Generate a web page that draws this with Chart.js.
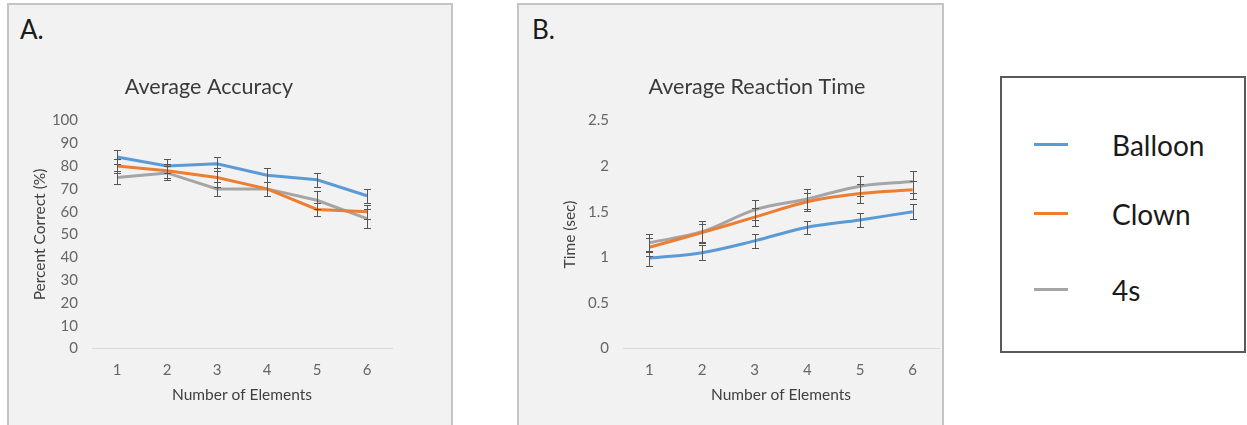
<!DOCTYPE html>
<html>
<head>
<meta charset="utf-8">
<script src="https://cdn.jsdelivr.net/npm/chart.js@4.4.0/dist/chart.umd.min.js"></script>
<style>
  body { margin: 0; width: 1247px; height: 425px; overflow: hidden; position: relative; background: #fff; font-family: Lato, sans-serif; }
  .panel { position: absolute; top: 3px; height: 440px; background: #f2f2f2; border: 2px solid #c4c4c4; box-sizing: border-box; }
  #panelA { left: 7px; width: 446px; }
  #panelB { left: 517px; width: 427px; }
  .tag { position: absolute; top: 13px; font-size: 26px; color: #1a1a1a; }
  canvas { position: absolute; top: 4px; }
  #accuracy { left: 9px; }
  #reaction { left: 530px; }
  .legend { position: absolute; left: 1000px; top: 76px; width: 246px; height: 277px; border: 2px solid #5a5a5a; box-sizing: border-box; background: #fff; }
  .item { position: absolute; left: 0; width: 100%; height: 30px; }
  .item i { position: absolute; left: 32px; top: 13px; width: 34px; height: 3px; }
  .item span { position: absolute; left: 110px; top: 0; font-size: 28px; line-height: 30px; color: #1a1a1a; }
</style>
</head>
<body>
<div class="panel" id="panelA"></div>
<div class="panel" id="panelB"></div>
<div class="tag" style="left:20px">A.</div>
<div class="tag" style="left:532px">B.</div>
<canvas id="accuracy" width="442" height="421"></canvas>
<canvas id="reaction" width="412" height="421"></canvas>

<div class="legend">
  <div class="item" style="top:52px"><i style="background:#5b9bd5"></i><span>Balloon</span></div>
  <div class="item" style="top:121px"><i style="background:#ed7d31"></i><span>Clown</span></div>
  <div class="item" style="top:197px"><i style="background:#a5a5a5"></i><span>4s</span></div>
</div>

<script>
const elements = ['1', '2', '3', '4', '5', '6'];

// accuracy, percent correct
const accBalloon = [84, 80, 81, 76, 74, 67];
const accClown   = [80, 78, 75, 70, 61, 60];
const acc4s      = [75, 77, 70, 70, 65, 57];
const accBalloonErr = [3, 3, 3, 3, 3, 3];
const accClownErr   = [3, 3, 4, 3, 3, 3];
const acc4sErr      = [3, 3, 3, 3, 4, 4];
const accTicks = [0, 10, 20, 30, 40, 50, 60, 70, 80, 90, 100];

// reaction time, seconds
const rtBalloon = [0.99, 1.05, 1.18, 1.33, 1.41, 1.50];
const rtClown   = [1.11, 1.27, 1.44, 1.61, 1.70, 1.74];
const rt4s      = [1.16, 1.28, 1.52, 1.64, 1.78, 1.83];
const rtBalloonErr = [0.08, 0.08, 0.08, 0.07, 0.08, 0.08];
const rtClownErr   = [0.10, 0.10, 0.10, 0.10, 0.10, 0.10];
const rt4sErr      = [0.10, 0.12, 0.11, 0.11, 0.11, 0.12];
const rtTicks = [0, 0.5, 1, 1.5, 2, 2.5];

const BLUE = '#5b9bd5', ORANGE = '#ed7d31', GREY = '#a5a5a5';

// vertical error bars with caps, drawn over the lines
const errorBars = {
  id: 'errorBars',
  afterDatasetsDraw(chart) {
    const { ctx, scales: { y } } = chart;
    const w = 3.5;
    ctx.save();
    ctx.strokeStyle = '#555';
    ctx.lineWidth = 1;
    chart.data.datasets.forEach((ds, di) => {
      const meta = chart.getDatasetMeta(di);
      meta.data.forEach((pt, i) => {
        const top = Math.round(y.getPixelForValue(ds.data[i] + ds.errors[i])) + 0.5;
        const bot = Math.round(y.getPixelForValue(ds.data[i] - ds.errors[i])) + 0.5;
        const x = Math.round(pt.x) + 0.5;
        ctx.beginPath();
        ctx.moveTo(x, top); ctx.lineTo(x, bot);
        ctx.moveTo(x - w, top); ctx.lineTo(x + w, top);
        ctx.moveTo(x - w, bot); ctx.lineTo(x + w, bot);
        ctx.stroke();
      });
    });
    ctx.restore();
  }
};

function series(label, data, errors, color, tension) {
  return {
    label, data, errors,
    borderColor: color,
    backgroundColor: color,
    borderWidth: 3,
    pointRadius: 0,
    tension: tension,
    fill: false
  };
}

function makeChart(id, cfg) {
  new Chart(document.getElementById(id), {
    type: 'line',
    data: { labels: elements, datasets: cfg.datasets },
    plugins: [errorBars],
    options: {
      responsive: false,
      animation: false,
      layout: { padding: cfg.pad },
      plugins: {
        legend: { display: false },
        tooltip: { enabled: false },
        title: {
          display: true,
          text: cfg.title,
          color: '#3a3a3a',
          font: { family: 'Lato', size: 21.5, weight: 'normal' },
          padding: { top: 70.1, bottom: 20.6 }
        }
      },
      scales: {
        x: {
          offset: true,
          grid: { display: false, drawTicks: false },
          border: { display: true, color: '#d9d9d9', width: 1 },
          ticks: { color: '#666', font: { family: 'Lato', size: 15 }, padding: 13 },
          title: {
            display: true, text: 'Number of Elements', color: '#404040',
            font: { family: 'Lato', size: 15.5 }, padding: { top: 0, bottom: 20.7 }
          },
          afterFit: s => { s.height = 76.5; }
        },
        y: {
          min: 0, max: cfg.max,
          grid: { display: false, drawTicks: false },
          border: { display: false },
          afterBuildTicks: s => { s.ticks = cfg.ticks.map(v => ({ value: v })); },
          ticks: { color: '#666', font: { family: 'Lato', size: 15 }, padding: 14, callback: v => String(v) },
          title: {
            display: true, text: cfg.yTitle, color: '#404040',
            font: { family: 'Lato', size: 15.5 }, padding: { top: cfg.yTitlePad, bottom: 0 }
          },
          afterFit: s => { s.width = cfg.yWidth; }
        }
      }
    }
  });
}

makeChart('accuracy', {
  title: 'Average Accuracy',
  yTitle: 'Percent Correct (%)',
  max: 100,
  ticks: accTicks,
  pad: { left: 17, right: 59, top: 0, bottom: 0 },
  yWidth: 66,
  yTitlePad: 4.7,
  datasets: [
    series('Balloon', accBalloon, accBalloonErr, BLUE, 0),
    series('Clown', accClown, accClownErr, ORANGE, 0),
    series('4s', acc4s, acc4sErr, GREY, 0)
  ]
});

makeChart('reaction', {
  title: 'Average Reaction Time',
  yTitle: 'Time (sec)',
  max: 2.5,
  ticks: rtTicks,
  pad: { left: 45, right: 3, top: 0, bottom: 0 },
  yWidth: 48,
  yTitlePad: -14.3,
  datasets: [
    series('Balloon', rtBalloon, rtBalloonErr, BLUE, 0.35),
    series('Clown', rtClown, rtClownErr, ORANGE, 0.35),
    series('4s', rt4s, rt4sErr, GREY, 0.35)
  ]
});
</script>
</body>
</html>
